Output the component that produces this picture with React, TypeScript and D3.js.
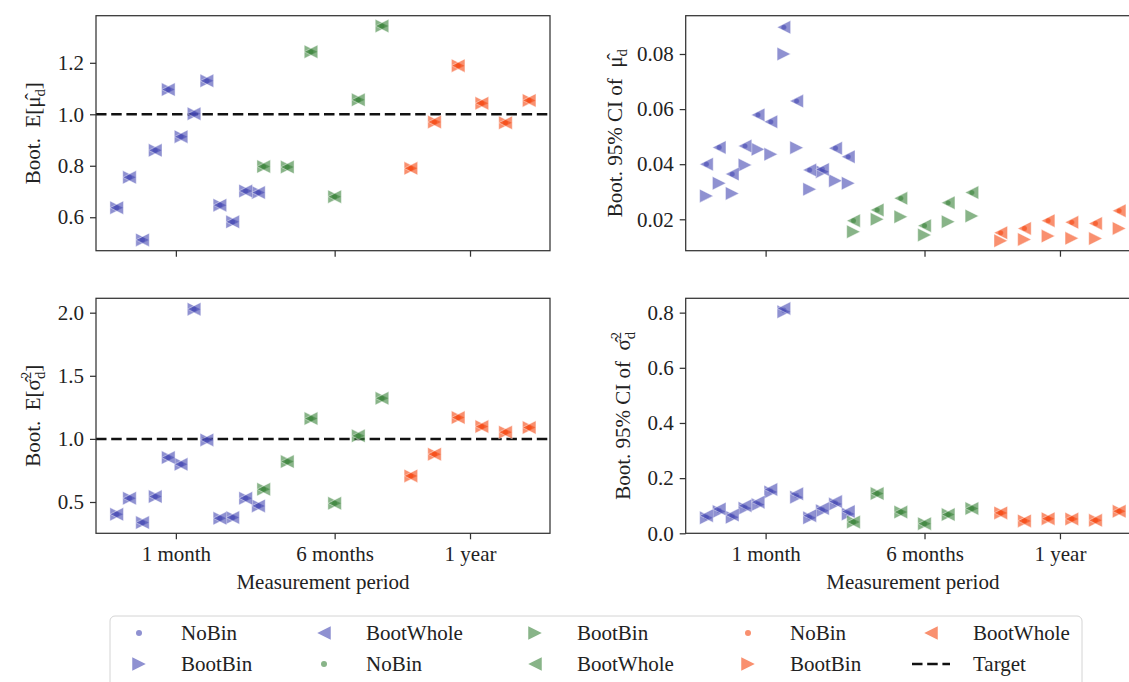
import { useEffect, useRef } from 'react';
import * as d3 from 'd3';

// x positions (slot units) of the three period groups
const blueX = [0, 0.54, 1.09, 1.63, 2.18, 2.72, 3.27, 3.81, 4.36, 4.9, 5.45, 5.99];
const greenX = [6.21, 7.21, 8.21, 9.21, 10.21, 11.21];
const redX = [12.43, 13.43, 14.43, 15.43, 16.43, 17.43];
const periodTicks = [2.5, 9.21, 14.93];
const periodLabels = ['1 month', '6 months', '1 year'];

// Boot. E[mu] (NoBin, BootWhole and BootBin coincide)
const meanBlue = [0.637, 0.755, 0.512, 0.86, 1.096, 0.913, 1.002, 1.13, 0.647, 0.582, 0.702, 0.696];
const meanGreen = [0.797, 0.795, 1.243, 0.68, 1.056, 1.343];
const meanRed = [0.79, 0.97, 1.189, 1.043, 0.967, 1.054];

// Boot. E[sigma^2]
const varBlue = [0.403, 0.53, 0.337, 0.543, 0.852, 0.799, 2.028, 0.992, 0.371, 0.377, 0.53, 0.469];
const varGreen = [0.601, 0.82, 1.161, 0.49, 1.024, 1.322];
const varRed = [0.707, 0.879, 1.169, 1.098, 1.053, 1.09];

// Boot. 95% CI of mu
const ciMeanWholeBlue = [0.04, 0.0461, 0.0364, 0.0466, 0.0579, 0.0554, 0.0897, 0.0629, 0.0379, 0.0381, 0.0458, 0.0427];
const ciMeanBinBlue = [0.0285, 0.0331, 0.0294, 0.0397, 0.0454, 0.0436, 0.08, 0.046, 0.0309, 0.0373, 0.034, 0.0331];
const ciMeanWholeGreen = [0.0195, 0.0234, 0.0276, 0.0177, 0.026, 0.0297];
const ciMeanBinGreen = [0.0155, 0.02, 0.0209, 0.0143, 0.0191, 0.0212];
const ciMeanWholeRed = [0.0151, 0.0167, 0.0195, 0.0189, 0.0185, 0.0231];
const ciMeanBinRed = [0.0122, 0.0127, 0.0139, 0.0131, 0.013, 0.0167];

// Boot. 95% CI of sigma^2
const ciVarBlue = [0.059, 0.083, 0.062, 0.095, 0.108, 0.154, 0.809, 0.138, 0.059, 0.086, 0.11, 0.074];
const ciVarWholeBlue = [0.064, 0.088, 0.066, 0.1, 0.113, 0.159, 0.815, 0.143, 0.064, 0.09, 0.115, 0.079];
const ciVarBinBlue = [0.056, 0.079, 0.058, 0.091, 0.104, 0.15, 0.803, 0.131, 0.056, 0.082, 0.106, 0.07];
const ciVarGreen = [0.041, 0.144, 0.077, 0.035, 0.068, 0.09];
const ciVarRed = [0.074, 0.045, 0.053, 0.052, 0.047, 0.08];

const colors = { blue: '#4448b2', green: '#398239', red: '#f5460f' };
const FONT = "'Liberation Serif', 'Times New Roman', serif";
const FS = 21;
const INK = '#222';
const MS = 13.5;

const triLeft = (s: number) => `M${-s / 2},0L${s / 2},${-s / 2}L${s / 2},${s / 2}Z`;
const triRight = (s: number) => `M${s / 2},0L${-s / 2},${-s / 2}L${-s / 2},${s / 2}Z`;

const series = (a: any) => [
  { color: colors.blue, x: blueX, ...a.blue },
  { color: colors.green, x: greenX, ...a.green },
  { color: colors.red, x: redX, ...a.red },
];

const panels = [
  {
    left: 96, right: 550, top: 15.7, bottom: 250.7, domain: [0.47, 1.383], ticks: [0.6, 0.8, 1.0, 1.2], fmt: '.1f',
    showX: false, target: true, labelX: 40,
    label: [{ t: 'Boot.  E[' }, { t: '\u03bc\u0302' }, { t: 'd', sub: true }, { t: ']', back: true }],
    data: series({
      blue: { noBin: meanBlue, whole: meanBlue, bin: meanBlue },
      green: { noBin: meanGreen, whole: meanGreen, bin: meanGreen },
      red: { noBin: meanRed, whole: meanRed, bin: meanRed },
    }),
  },
  {
    left: 96, right: 550, top: 298.3, bottom: 533.3, domain: [0.252, 2.114], ticks: [0.5, 1.0, 1.5, 2.0], fmt: '.1f',
    showX: true, target: true, labelX: 40,
    label: [{ t: 'Boot.  E[' }, { t: '\u03c3\u0302' }, { t: '2', sup: true }, { t: 'd', sub: true, under: true }, { t: ']', back: true }],
    data: series({
      blue: { noBin: varBlue, whole: varBlue, bin: varBlue },
      green: { noBin: varGreen, whole: varGreen, bin: varGreen },
      red: { noBin: varRed, whole: varRed, bin: varRed },
    }),
  },
  {
    left: 685.7, right: 1140, top: 15.7, bottom: 250.7, domain: [0.0086, 0.0939], ticks: [0.02, 0.04, 0.06, 0.08], fmt: '.2f',
    showX: false, target: false, labelX: 622,
    label: [{ t: 'Boot. 95% CI of  ' }, { t: '\u03bc\u0302' }, { t: 'd', sub: true }],
    data: series({
      blue: { noBin: ciMeanWholeBlue, whole: ciMeanWholeBlue, bin: ciMeanBinBlue },
      green: { noBin: ciMeanWholeGreen, whole: ciMeanWholeGreen, bin: ciMeanBinGreen },
      red: { noBin: ciMeanWholeRed, whole: ciMeanWholeRed, bin: ciMeanBinRed },
    }),
  },
  {
    left: 685.7, right: 1140, top: 298.3, bottom: 533.3, domain: [0, 0.852], ticks: [0, 0.2, 0.4, 0.6, 0.8], fmt: '.1f',
    showX: true, target: false, labelX: 630,
    label: [{ t: 'Boot. 95% CI of  ' }, { t: '\u03c3\u0302' }, { t: '2', sup: true }, { t: 'd', sub: true, under: true }],
    data: series({
      blue: { noBin: ciVarBlue, whole: ciVarWholeBlue, bin: ciVarBinBlue },
      green: { noBin: ciVarGreen, whole: ciVarGreen, bin: ciVarGreen },
      red: { noBin: ciVarRed, whole: ciVarRed, bin: ciVarRed },
    }),
  },
];

function drawPanel(svg: any, p: any) {
  const x = d3.scaleLinear().domain([-0.875, 18.31]).range([p.left, p.right]);
  const y = d3.scaleLinear().domain(p.domain).range([p.bottom, p.top]);
  const g = svg.append('g');

  if (p.target) {
    g.append('line')
      .attr('x1', p.left).attr('x2', p.right)
      .attr('y1', y(1)).attr('y2', y(1))
      .attr('stroke', '#111').attr('stroke-width', 2.5).attr('stroke-dasharray', '10.5,4.7');
  }

  p.data.forEach((s: any) => {
    const pts = (vals: number[]) => vals.map((v, i) => ({ x: x(s.x[i]), y: y(v) }));
    g.append('g').selectAll('circle').data(pts(s.noBin)).join('circle')
      .attr('cx', (d: any) => d.x).attr('cy', (d: any) => d.y).attr('r', 2.6)
      .attr('fill', s.color).attr('fill-opacity', 0.6)
      .attr('stroke', '#fff').attr('stroke-opacity', 0.5).attr('stroke-width', 0.5);
    g.append('g').selectAll('path').data(pts(s.bin)).join('path')
      .attr('d', triRight(MS)).attr('transform', (d: any) => `translate(${d.x},${d.y})`)
      .attr('fill', s.color).attr('fill-opacity', 0.6)
      .attr('stroke', '#fff').attr('stroke-opacity', 0.6).attr('stroke-width', 0.7);
    g.append('g').selectAll('path').data(pts(s.whole)).join('path')
      .attr('d', triLeft(MS)).attr('transform', (d: any) => `translate(${d.x},${d.y})`)
      .attr('fill', s.color).attr('fill-opacity', 0.6)
      .attr('stroke', '#fff').attr('stroke-opacity', 0.6).attr('stroke-width', 0.7);
  });

  g.append('rect')
    .attr('x', p.left).attr('y', p.top)
    .attr('width', p.right - p.left).attr('height', p.bottom - p.top)
    .attr('fill', 'none').attr('stroke', '#333').attr('stroke-width', 1.25);

  const yAxis = d3.axisLeft(y).tickValues(p.ticks).tickFormat(d3.format(p.fmt) as any).tickSize(6).tickPadding(6);
  const ya = g.append('g').attr('transform', `translate(${p.left},0)`).call(yAxis);
  const xAxis = d3.axisBottom(x).tickValues(periodTicks)
    .tickFormat(((d: any, i: number) => (p.showX ? periodLabels[i] : '')) as any).tickSize(6).tickPadding(7);
  const xa = g.append('g').attr('transform', `translate(0,${p.bottom})`).call(xAxis);
  [ya, xa].forEach((a: any) => {
    a.attr('font-family', FONT).attr('font-size', FS);
    a.select('.domain').remove();
    a.selectAll('line').attr('stroke', '#333').attr('stroke-width', 1.25);
    a.selectAll('text').attr('font-family', FONT).attr('font-size', FS).attr('fill', INK);
  });

  if (p.showX) {
    g.append('text')
      .attr('x', (p.left + p.right) / 2).attr('y', 589)
      .attr('text-anchor', 'middle').attr('font-family', FONT).attr('font-size', FS).attr('fill', INK)
      .text('Measurement period');
  }

  const cy = (p.top + p.bottom) / 2;
  const lab = g.append('text')
    .attr('transform', `translate(${p.labelX},${cy}) rotate(-90)`)
    .attr('text-anchor', 'middle').attr('font-family', FONT).attr('font-size', FS).attr('fill', INK)
    .style('white-space', 'pre');
  let shift = 0;
  p.label.forEach((part: any) => {
    const t = lab.append('tspan').text(part.t);
    if (part.sup) { t.attr('font-size', FS * 0.7).attr('dy', -9); shift = -9; }
    else if (part.sub) {
      const dy = part.under ? 14 : 5;
      t.attr('font-size', FS * 0.7).attr('dy', dy);
      if (part.under) t.attr('dx', -FS * 0.7 * 0.5);
      shift += dy;
    } else if (part.back) { t.attr('dy', -shift); shift = 0; }
  });
}

function drawLegend(svg: any) {
  const g = svg.append('g');
  g.append('rect').attr('x', 110).attr('y', 616).attr('width', 972).attr('height', 90).attr('rx', 5)
    .attr('fill', '#fff').attr('stroke', '#d4d4d4').attr('stroke-width', 1);
  const entries = [
    { kind: 'circle', color: colors.blue, text: 'NoBin' },
    { kind: 'right', color: colors.blue, text: 'BootBin' },
    { kind: 'left', color: colors.blue, text: 'BootWhole' },
    { kind: 'circle', color: colors.green, text: 'NoBin' },
    { kind: 'right', color: colors.green, text: 'BootBin' },
    { kind: 'left', color: colors.green, text: 'BootWhole' },
    { kind: 'circle', color: colors.red, text: 'NoBin' },
    { kind: 'right', color: colors.red, text: 'BootBin' },
    { kind: 'left', color: colors.red, text: 'BootWhole' },
    { kind: 'dash', color: '#111', text: 'Target' },
  ];
  const colCenters = [139, 324, 535, 748, 931];
  const rowCenters = [633, 664];
  entries.forEach((e, i) => {
    const cx = colCenters[Math.floor(i / 2)];
    const cy = rowCenters[i % 2];
    if (e.kind === 'circle') {
      g.append('circle').attr('cx', cx).attr('cy', cy).attr('r', 3).attr('fill', e.color).attr('fill-opacity', 0.6);
    } else if (e.kind === 'dash') {
      g.append('line').attr('x1', cx - 19).attr('x2', cx + 19).attr('y1', cy).attr('y2', cy)
        .attr('stroke', e.color).attr('stroke-width', 2.5).attr('stroke-dasharray', '10.5,4.7');
    } else {
      g.append('path').attr('d', e.kind === 'left' ? triLeft(MS) : triRight(MS))
        .attr('transform', `translate(${cx},${cy})`).attr('fill', e.color).attr('fill-opacity', 0.6);
    }
    g.append('text').attr('x', cx + 42).attr('y', cy + 7)
      .attr('font-family', FONT).attr('font-size', FS).attr('fill', INK).text(e.text);
  });
}

export default function App() {
  const ref = useRef<SVGSVGElement>(null);
  useEffect(() => {
    const svg = d3.select(ref.current);
    svg.selectAll('*').remove();
    panels.forEach((p) => drawPanel(svg, p));
    drawLegend(svg);
  }, []);
  return (
    <svg ref={ref} width={1129} height={682}
      style={{ position: 'absolute', left: 0, top: 0, background: '#fff', overflow: 'hidden' }} />
  );
}
